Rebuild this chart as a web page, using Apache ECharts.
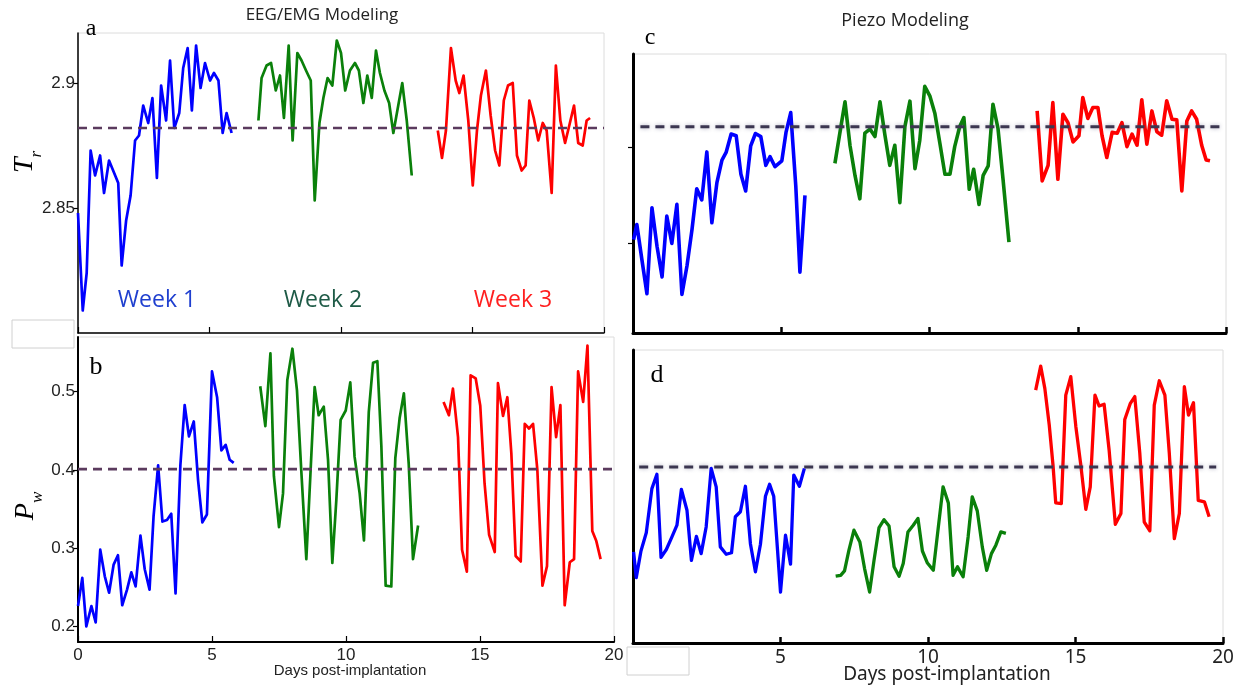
<!DOCTYPE html>
<html>
<head>
<meta charset="utf-8">
<script src="https://cdn.jsdelivr.net/npm/echarts@6/dist/echarts.min.js"></script>
<style>
html,body{margin:0;padding:0;background:#fff;}
#chart{width:1249px;height:688px;}
</style>
</head>
<body>
<div id="chart"></div>
<script>
// ---------- DATA ----------
// Panel a: EEG/EMG modeling, T_r  [day, value]
const trEEGWeek1 = [[0,2.848],[0.18,2.809],[0.33,2.824],[0.48,2.873],[0.65,2.863],[0.84,2.871],[0.99,2.856],[1.18,2.869],[1.53,2.860],[1.66,2.827],[1.83,2.845],[2.0,2.855],[2.17,2.877],[2.32,2.879],[2.48,2.891],[2.67,2.884],[2.83,2.894],[3.0,2.862],[3.16,2.899],[3.35,2.885],[3.5,2.909],[3.66,2.882],[3.85,2.888],[4.0,2.906],[4.17,2.914],[4.33,2.889],[4.49,2.915],[4.66,2.898],[4.83,2.908],[5.02,2.901],[5.17,2.904],[5.34,2.901],[5.5,2.880],[5.65,2.888],[5.84,2.880]];
const trEEGWeek2 = [[6.86,2.885],[6.98,2.902],[7.17,2.907],[7.34,2.908],[7.52,2.897],[7.68,2.903],[7.83,2.886],[8.01,2.915],[8.16,2.877],[8.34,2.912],[8.5,2.909],[8.67,2.905],[8.85,2.901],[9.0,2.853],[9.18,2.884],[9.33,2.894],[9.49,2.902],[9.67,2.899],[9.84,2.917],[10.0,2.912],[10.16,2.897],[10.34,2.905],[10.53,2.908],[10.68,2.905],[10.85,2.892],[11.0,2.903],[11.17,2.894],[11.33,2.913],[11.48,2.904],[11.65,2.897],[11.83,2.892],[11.99,2.880],[12.33,2.900],[12.5,2.885],[12.69,2.863]];
const trEEGWeek3 = [[13.68,2.881],[13.84,2.870],[13.99,2.881],[14.18,2.914],[14.36,2.901],[14.5,2.896],[14.66,2.903],[14.84,2.885],[15.01,2.859],[15.17,2.881],[15.32,2.895],[15.51,2.905],[15.69,2.887],[15.86,2.873],[16.02,2.867],[16.19,2.893],[16.35,2.899],[16.53,2.900],[16.69,2.871],[16.87,2.865],[17.02,2.867],[17.16,2.893],[17.33,2.886],[17.5,2.877],[17.67,2.884],[17.82,2.881],[18.01,2.856],[18.17,2.907],[18.34,2.885],[18.52,2.876],[18.68,2.883],[18.86,2.891],[19.02,2.876],[19.19,2.875],[19.34,2.885],[19.47,2.886]];
const trEEGRef = 2.882;

// Panel b: EEG/EMG modeling, P_w
const pwEEGWeek1 = [[0,0.226],[0.16,0.262],[0.31,0.200],[0.5,0.226],[0.66,0.205],[0.83,0.298],[1.0,0.264],[1.16,0.243],[1.33,0.279],[1.49,0.291],[1.65,0.227],[1.83,0.247],[1.99,0.269],[2.15,0.251],[2.33,0.316],[2.49,0.273],[2.67,0.247],[2.82,0.341],[2.99,0.406],[3.15,0.334],[3.32,0.336],[3.48,0.344],[3.64,0.242],[3.82,0.406],[3.98,0.483],[4.14,0.443],[4.32,0.462],[4.48,0.387],[4.64,0.333],[4.81,0.343],[5.0,0.526],[5.19,0.493],[5.35,0.425],[5.51,0.432],[5.66,0.413],[5.81,0.409]];
const pwEEGWeek2 = [[6.8,0.507],[6.99,0.456],[7.18,0.549],[7.31,0.392],[7.5,0.327],[7.65,0.370],[7.81,0.515],[8.0,0.555],[8.17,0.502],[8.33,0.400],[8.52,0.286],[8.68,0.400],[8.83,0.506],[8.98,0.470],[9.17,0.481],[9.33,0.413],[9.49,0.281],[9.64,0.362],[9.8,0.464],[9.99,0.476],[10.16,0.512],[10.32,0.417],[10.51,0.370],[10.67,0.310],[10.85,0.474],[11.01,0.537],[11.17,0.539],[11.32,0.430],[11.48,0.252],[11.69,0.251],[11.84,0.415],[12.0,0.466],[12.16,0.498],[12.34,0.408],[12.5,0.286],[12.69,0.329]];
const pwEEGWeek3 = [[13.64,0.487],[13.84,0.470],[13.99,0.504],[14.18,0.442],[14.33,0.298],[14.51,0.270],[14.65,0.521],[14.84,0.517],[15.01,0.482],[15.17,0.383],[15.34,0.317],[15.55,0.295],[15.67,0.511],[15.86,0.469],[16.02,0.493],[16.17,0.421],[16.33,0.290],[16.52,0.283],[16.67,0.459],[16.83,0.453],[16.98,0.459],[17.14,0.400],[17.33,0.252],[17.5,0.277],[17.67,0.506],[17.84,0.442],[18.0,0.483],[18.16,0.227],[18.35,0.282],[18.51,0.286],[18.66,0.526],[18.85,0.487],[19.01,0.559],[19.19,0.322],[19.34,0.309],[19.5,0.286]];
const pwEEGRef = 0.401;

// Panel c: Piezo modeling, T_r (unlabelled axis, relative units)
const trPiezoWeek1 = [[0.02,33.5],[0.13,38.9],[0.3,26.3],[0.47,14.1],[0.64,44.9],[0.81,31.1],[0.98,20.1],[1.14,41.9],[1.31,32.1],[1.48,46.1],[1.65,13.8],[1.82,24.0],[1.99,37.1],[2.15,51.7],[2.32,47.7],[2.49,64.9],[2.66,39.5],[2.83,53.9],[3.0,62.0],[3.14,64.7],[3.31,71.3],[3.48,70.7],[3.64,56.9],[3.8,50.9],[3.97,67.1],[4.13,71.5],[4.31,70.4],[4.48,60.1],[4.62,63.2],[4.79,59.6],[5.02,61.7],[5.16,71.9],[5.32,79.0],[5.49,52.7],[5.63,21.8],[5.8,49.3]];
const trPiezoWeek2 = [[6.81,60.8],[6.98,71.9],[7.15,82.9],[7.32,67.1],[7.49,56.3],[7.65,48.1],[7.82,71.6],[7.99,73.1],[8.16,70.4],[8.33,82.9],[8.5,70.7],[8.66,60.1],[8.83,67.3],[9.0,46.7],[9.17,74.0],[9.34,83.1],[9.51,58.9],[9.67,68.9],[9.84,88.4],[10.01,85.0],[10.18,78.8],[10.35,68.0],[10.52,56.9],[10.69,56.9],[10.85,66.8],[11.02,74.0],[11.16,77.2],[11.34,51.5],[11.49,58.7],[11.67,46.1],[11.81,56.5],[11.98,59.9],[12.14,82.0],[12.31,73.3],[12.48,55.1],[12.68,32.6]];
const trPiezoWeek3 = [[13.63,79.6],[13.8,54.5],[14.0,60.1],[14.16,82.6],[14.33,55.1],[14.5,78.4],[14.67,75.4],[14.84,68.5],[15.04,70.7],[15.17,84.4],[15.34,76.9],[15.51,80.8],[15.68,80.8],[15.82,70.7],[15.98,62.9],[16.16,71.9],[16.33,71.6],[16.49,75.4],[16.66,66.8],[16.83,71.3],[17.0,67.3],[17.16,83.6],[17.33,67.7],[17.5,79.6],[17.67,72.1],[17.83,70.9],[18.0,83.2],[18.18,76.6],[18.34,76.4],[18.51,50.9],[18.68,76.0],[18.84,79.6],[19.01,76.6],[19.18,67.3],[19.33,62.0],[19.46,61.7]];
const trPiezoRef = 73.9;
const trPiezoTicks = [32.1, 66.5];

// Panel d: Piezo modeling, P_w (unlabelled axis, relative units)
const pwPiezoWeek1 = [[0.02,31.1],[0.11,22.3],[0.27,31.4],[0.45,37.6],[0.64,52.7],[0.81,57.6],[0.95,29.2],[1.13,31.9],[1.32,36.2],[1.49,40.2],[1.64,52.4],[1.83,45.3],[1.98,28.2],[2.15,36.4],[2.31,30.5],[2.48,39.6],[2.65,59.6],[2.82,53.3],[2.96,32.8],[3.16,30.3],[3.34,30.8],[3.47,43.1],[3.64,44.8],[3.81,53.5],[3.98,33.9],[4.15,24.3],[4.32,33.7],[4.49,50.1],[4.63,54.2],[4.77,50.1],[5.0,17.4],[5.17,36.8],[5.34,26.9],[5.45,57.3],[5.64,53.5],[5.81,59.6]];
const pwPiezoWeek2 = [[6.87,22.8],[7.04,23.1],[7.17,24.6],[7.32,31.7],[7.49,38.5],[7.69,34.5],[7.85,25.4],[8.02,17.4],[8.17,28.2],[8.34,39.4],[8.51,42.1],[8.68,39.9],[8.85,26.0],[9.02,22.8],[9.16,27.1],[9.32,37.9],[9.5,40.2],[9.66,42.5],[9.81,31.4],[9.98,27.3],[10.18,24.8],[10.34,38.7],[10.51,53.3],[10.69,47.8],[10.85,23.1],[11.0,26.0],[11.19,22.6],[11.36,36.2],[11.5,49.9],[11.67,45.1],[11.84,32.8],[11.99,24.8],[12.15,30.5],[12.3,33.4],[12.47,37.9],[12.64,37.4]];
const pwPiezoWeek3 = [[13.65,86.3],[13.82,94.5],[13.96,86.9],[14.11,74.4],[14.24,60.4],[14.33,47.8],[14.52,47.6],[14.67,84.6],[14.84,90.9],[15.01,74.0],[15.18,60.7],[15.35,45.6],[15.5,53.3],[15.66,84.6],[15.8,80.9],[15.97,81.5],[16.14,65.8],[16.35,40.5],[16.54,44.2],[16.67,76.3],[16.86,81.8],[17.01,84.1],[17.18,64.7],[17.33,41.3],[17.52,38.3],[17.67,81.2],[17.84,89.5],[18.03,84.6],[18.18,64.7],[18.35,35.6],[18.52,44.2],[18.69,87.5],[18.83,77.8],[19.0,82.0],[19.16,48.7],[19.37,48.2],[19.53,43.1]];
const pwPiezoRef = 60.1;

const xTicks = [0, 5, 10, 15, 20];
const trEEGTicks = [2.85, 2.9];
const pwEEGTicks = [0.2, 0.3, 0.4, 0.5];
const weekLabels = ['Week 1', 'Week 2', 'Week 3'];
const panelLabels = ['a', 'b', 'c', 'd'];
const titles = ['EEG/EMG Modeling', 'Piezo Modeling'];
const xTitle = 'Days post-implantation';

// ---------- CHART ----------
const BLUE = '#0000ff', GREEN = '#0a800a', RED = '#ff0000';
const chart = echarts.init(document.getElementById('chart'), null, {renderer: 'canvas'});

const grids = [
  {left: 78, top: 33, width: 526, height: 300},
  {left: 78, top: 337, width: 536, height: 305},
  {left: 633, top: 54, width: 593, height: 279},
  {left: 633, top: 350, width: 590, height: 293}
].map(g => Object.assign({show: true, borderColor: '#dcdcdc', borderWidth: 1, backgroundColor: '#fff', containLabel: false, outerBoundsMode: 'none'}, g));

function xAx(i, showLabel, lw, fs) {
  return {
    type: 'value', gridIndex: i, min: 0, max: 20, interval: 5,
    splitLine: {show: false},
    axisLine: {show: true, onZero: false, lineStyle: {color: '#000', width: lw}},
    axisTick: {show: true, inside: true, length: 6, lineStyle: {color: '#000', width: lw > 2 ? 2.5 : 1.2}},
    axisLabel: {show: showLabel, color: '#222', fontSize: fs, fontFamily: i === 3 ? 'Noto Sans' : 'Liberation Sans', margin: 5,
      customValues: xTicks}
  };
}
function yAx(i, min, max, ticks, showLabel, lw) {
  return {
    type: 'value', gridIndex: i, min: min, max: max,
    splitLine: {show: false},
    axisLine: {show: true, onZero: false, lineStyle: {color: '#000', width: lw}},
    axisTick: {show: ticks.length > 0, inside: false, length: 5, customValues: ticks, lineStyle: {color: '#000', width: 1.2}},
    axisLabel: {show: showLabel, color: '#222', fontSize: 17, fontFamily: 'Liberation Sans', margin: 3, customValues: ticks}
  };
}

function lineSeries(i, data, color, w) {
  return {type: 'line', xAxisIndex: i, yAxisIndex: i, data: data, showSymbol: false, symbol: 'none',
    lineStyle: {color: color, width: w, join: 'round'}, z: 3, silent: true, animation: false};
}
function refSeries(i, v, x0, x1, color, shadow) {
  return {type: 'line', xAxisIndex: i, yAxisIndex: i, data: [[x0, v], [x1, v]], showSymbol: false, symbol: 'none',
    lineStyle: {color: color, width: shadow ? 3 : 2.6, type: [9, 6],
      shadowColor: shadow ? 'rgba(70,70,110,0.45)' : 'transparent', shadowBlur: shadow ? 4 : 0},
    z: 4, silent: true, animation: false};
}

const option = {
  animation: false,
  backgroundColor: '#fff',
  grid: grids,
  xAxis: [xAx(0, false, 1.5, 17), xAx(1, true, 2, 17), xAx(2, false, 3, 19), xAx(3, true, 3, 19)],
  yAxis: [
    yAx(0, 2.8, 2.92, trEEGTicks, true, 1.5),
    yAx(1, 0.18, 0.57, pwEEGTicks, true, 2),
    yAx(2, 0, 100, trPiezoTicks, false, 3),
    yAx(3, 0, 100, [], false, 3)
  ],
  series: [
    refSeries(0, trEEGRef, 0, 20, '#5b3b5e', false),
    lineSeries(0, trEEGWeek1, BLUE, 2.7),
    lineSeries(0, trEEGWeek2, GREEN, 2.7),
    lineSeries(0, trEEGWeek3, RED, 2.7),
    refSeries(1, pwEEGRef, 0, 20, '#5b3b5e', false),
    lineSeries(1, pwEEGWeek1, BLUE, 2.7),
    lineSeries(1, pwEEGWeek2, GREEN, 2.7),
    lineSeries(1, pwEEGWeek3, RED, 2.7),
    refSeries(2, trPiezoRef, 0.25, 19.9, '#3b3650', true),
    lineSeries(2, trPiezoWeek1, BLUE, 3.6),
    lineSeries(2, trPiezoWeek2, GREEN, 3.6),
    lineSeries(2, trPiezoWeek3, RED, 3.6),
    refSeries(3, pwPiezoRef, 0.21, 19.77, '#3b3650', true),
    lineSeries(3, pwPiezoWeek1, BLUE, 3.3),
    lineSeries(3, pwPiezoWeek2, GREEN, 3.3),
    lineSeries(3, pwPiezoWeek3, RED, 3.3)
  ],
  graphic: [
    {type: 'text', x: 322, y: 15, style: {text: titles[0], font: '17px "Open Sans"', fill: '#222', align: 'center', verticalAlign: 'middle'}},
    {type: 'text', x: 905, y: 21, style: {text: titles[1], font: '18px "Open Sans"', fill: '#222', align: 'center', verticalAlign: 'middle'}},
    {type: 'text', x: 91, y: 29, style: {text: panelLabels[0], font: '24px "Liberation Serif"', fill: '#000', align: 'center', verticalAlign: 'middle'}},
    {type: 'text', x: 96, y: 367, style: {text: panelLabels[1], font: '26px "Liberation Serif"', fill: '#000', align: 'center', verticalAlign: 'middle'}},
    {type: 'text', x: 650, y: 38, style: {text: panelLabels[2], font: '24px "Liberation Serif"', fill: '#000', align: 'center', verticalAlign: 'middle'}},
    {type: 'text', x: 657, y: 375, style: {text: panelLabels[3], font: '26px "Liberation Serif"', fill: '#000', align: 'center', verticalAlign: 'middle'}},
    {type: 'text', x: 157, y: 300, style: {text: weekLabels[0], font: '23px "Open Sans"', fill: '#1f3fcf', align: 'center', verticalAlign: 'middle'}},
    {type: 'text', x: 323, y: 300, style: {text: weekLabels[1], font: '23px "Open Sans"', fill: '#1e5a46', align: 'center', verticalAlign: 'middle'}},
    {type: 'text', x: 513, y: 300, style: {text: weekLabels[2], font: '23px "Open Sans"', fill: '#ff2020', align: 'center', verticalAlign: 'middle'}},
    {type: 'text', x: 350, y: 671, style: {text: xTitle, font: '15px "Liberation Sans"', fill: '#222', align: 'center', verticalAlign: 'middle'}},
    {type: 'text', x: 947, y: 675, style: {text: xTitle, font: '19px "Noto Sans"', fill: '#222', align: 'center', verticalAlign: 'middle'}},
    {type: 'text', x: 25, y: 162, rotation: Math.PI / 2, style: {text: '{t|T}{s|r}', align: 'center', verticalAlign: 'middle',
      rich: {t: {font: 'italic 28px "Liberation Serif"', fill: '#000', verticalAlign: 'bottom'}, s: {font: 'italic 17px "Liberation Serif"', fill: '#000', verticalAlign: 'bottom', padding: [0, 0, -6, 0]}}}},
    {type: 'text', x: 26, y: 506, rotation: Math.PI / 2, style: {text: '{t|P}{s|w}', align: 'center', verticalAlign: 'middle',
      rich: {t: {font: 'italic 28px "Liberation Serif"', fill: '#000', verticalAlign: 'bottom'}, s: {font: 'italic 17px "Liberation Serif"', fill: '#000', verticalAlign: 'bottom', padding: [0, 0, -6, 0]}}}},
    {type: 'rect', shape: {x: 12, y: 320, width: 62, height: 28}, style: {fill: '#fff', stroke: '#d0d0d0', lineWidth: 1}, z: 100},
    {type: 'rect', shape: {x: 627, y: 647, width: 62, height: 28}, style: {fill: '#fff', stroke: '#d0d0d0', lineWidth: 1}, z: 100}
  ]
};
chart.setOption(option);
</script>
</body>
</html>
